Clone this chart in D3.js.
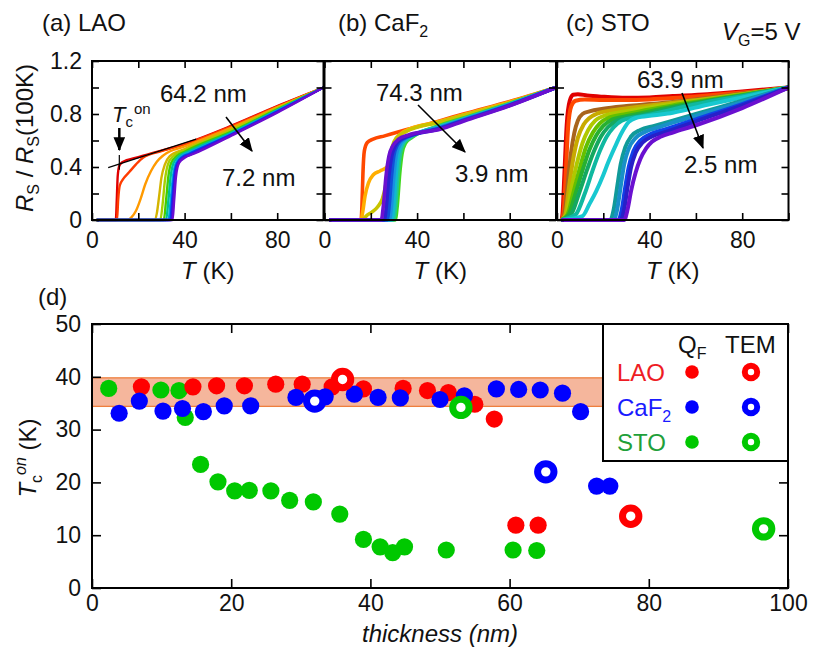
<!DOCTYPE html>
<html>
<head>
<meta charset="utf-8">
<script src="https://cdn.jsdelivr.net/npm/d3@7"></script>
<style>
  body { margin: 0; background: #fff; }
  text { font-family: Arial, "Liberation Sans", Helvetica, sans-serif; fill: #111; }
</style>
</head>
<body>
<svg id="chart" width="813" height="654"></svg>
<script>
// ---------- top panels: R_S/R_S(100K) vs T, one [T, R] list per film, thickest first ----------
const laoCurves = [
  [[2,0],[10.3,0],[10.7,0.15],[11.1,0.33],[11.8,0.41],[13,0.435],[20,0.475],[40,0.575],[60,0.71],[80,0.86],[100,1]],
  [[2,0],[10.8,0],[11.3,0.15],[12,0.26],[13.5,0.31],[16,0.36],[19,0.42],[22,0.47],[30,0.52],[40,0.57],[60,0.705],[80,0.855],[100,1]],
  [[2,0],[15.5,0],[17,0.02],[19,0.07],[21,0.16],[23,0.27],[25.5,0.37],[28,0.44],[31,0.49],[40,0.555],[60,0.695],[80,0.85],[100,1]],
  [[2,0],[27,0],[28,0.05],[29,0.18],[30,0.32],[31.5,0.42],[33.5,0.48],[40,0.535],[60,0.685],[80,0.845],[100,1]],
  [[2,0],[29.5,0],[30.5,0.12],[31.5,0.3],[32.8,0.42],[35,0.48],[40,0.525],[60,0.675],[80,0.84],[100,1]],
  [[2,0],[31,0],[32,0.15],[33,0.33],[34.2,0.43],[36.5,0.48],[40,0.515],[60,0.665],[80,0.835],[100,1]],
  [[2,0],[32,0],[33,0.15],[34,0.33],[35.2,0.43],[37.5,0.48],[42,0.52],[60,0.658],[80,0.83],[100,1]],
  [[2,0],[33,0],[34,0.15],[35,0.33],[36.2,0.43],[38.5,0.48],[42,0.51],[60,0.65],[80,0.825],[100,1]],
  [[2,0],[33.8,0],[34.6,0.15],[35.5,0.33],[36.8,0.43],[39,0.475],[42,0.5],[60,0.645],[80,0.82],[100,1]],
  [[2,0],[34.3,0],[35,0.15],[35.9,0.33],[37.2,0.43],[39.5,0.47],[42,0.49],[60,0.64],[80,0.815],[100,1]],
  [[2,0],[34.8,0],[35.5,0.15],[36.3,0.33],[37.6,0.43],[40,0.47],[44,0.5],[60,0.635],[80,0.81],[100,1]]
];
const caf2Curves = [
  [[2,0],[15.8,0],[16.2,0.12],[16.6,0.35],[17.2,0.52],[18.5,0.585],[21,0.61],[26,0.635],[34,0.675],[50,0.75],[60,0.8],[80,0.895],[100,1]],
  [[2,0],[15.8,0],[16.5,0.06],[17.5,0.18],[19,0.28],[21,0.34],[24,0.37],[27,0.4],[29,0.45],[30.5,0.55],[32,0.63],[34.5,0.67],[50,0.745],[60,0.795],[80,0.89],[100,1]],
  [[2,0],[16.3,0],[18,0.03],[20.5,0.06],[23,0.1],[25,0.16],[26.5,0.27],[27.8,0.42],[29.2,0.55],[31,0.62],[35,0.665],[50,0.74],[60,0.79],[80,0.885],[100,1]],
  [[2,0],[30.5,0],[31.5,0.12],[32.5,0.35],[33.5,0.5],[35,0.58],[38,0.625],[50,0.715],[60,0.77],[80,0.88],[100,1]],
  [[2,0],[29.8,0],[30.8,0.12],[31.8,0.35],[32.8,0.5],[34.3,0.58],[37,0.62],[50,0.71],[60,0.765],[80,0.877],[100,1]],
  [[2,0],[29,0],[30,0.12],[31,0.35],[32,0.5],[33.5,0.58],[36,0.62],[50,0.705],[60,0.76],[80,0.874],[100,1]],
  [[2,0],[28,0],[29,0.12],[30,0.34],[31,0.49],[32.6,0.57],[35,0.615],[50,0.7],[60,0.757],[80,0.871],[100,1]],
  [[2,0],[27,0],[28,0.12],[29,0.34],[30,0.49],[31.6,0.57],[34,0.612],[50,0.695],[60,0.754],[80,0.868],[100,1]],
  [[2,0],[25.8,0],[26.8,0.12],[27.8,0.33],[29,0.48],[30.6,0.56],[33,0.61],[50,0.69],[60,0.75],[80,0.865],[100,1]],
  [[2,0],[24.5,0],[25.5,0.12],[26.5,0.32],[27.8,0.48],[29.5,0.56],[32,0.61],[36,0.64],[50,0.685],[60,0.745],[80,0.862],[100,1]]
];
const stoCurves = [
  [[2,0],[2.4,0.05],[3.2,0.35],[4.2,0.72],[5.5,0.9],[7,0.945],[9,0.95],[13,0.94],[20,0.93],[30,0.922],[40,0.925],[50,0.935],[65,0.95],[80,0.97],[100,1]],
  [[2,0],[2.8,0.05],[3.8,0.35],[4.8,0.7],[6.2,0.86],[8,0.9],[12,0.91],[20,0.905],[30,0.905],[40,0.91],[50,0.92],[65,0.94],[80,0.962],[100,0.99]],
  [[2,0],[3.2,0.04],[4.5,0.25],[6,0.5],[7.5,0.66],[9,0.75],[11,0.8],[14,0.82],[20,0.84],[30,0.86],[40,0.875],[50,0.89],[65,0.92],[80,0.955],[100,1]],
  [[2,0],[3.6,0.04],[5.2,0.25],[7,0.46],[9,0.62],[11.5,0.72],[14,0.77],[17,0.8],[25,0.83],[40,0.865],[50,0.885],[65,0.915],[80,0.95],[100,1]],
  [[2,0],[4,0.04],[6,0.22],[8.5,0.42],[11,0.58],[13.5,0.68],[16.5,0.75],[20,0.785],[28,0.815],[40,0.85],[50,0.875],[65,0.91],[80,0.948],[100,1]],
  [[2,0],[4.5,0.04],[7,0.2],[10,0.4],[12.5,0.55],[15.5,0.66],[18.5,0.73],[22,0.77],[30,0.8],[40,0.835],[50,0.865],[65,0.905],[80,0.945],[100,1]],
  [[2,0],[5,0.04],[8,0.2],[11.5,0.4],[14,0.53],[17,0.64],[20,0.71],[24,0.76],[32,0.79],[40,0.82],[50,0.855],[65,0.9],[80,0.94],[100,1]],
  [[2,0],[6,0.04],[9.5,0.2],[13,0.38],[16,0.52],[19,0.63],[22,0.7],[26,0.75],[33,0.78],[40,0.805],[50,0.845],[65,0.895],[80,0.938],[100,1]],
  [[2,0],[8,0.04],[12,0.2],[15.5,0.38],[18.5,0.52],[21.5,0.63],[24.5,0.7],[28,0.75],[34,0.775],[40,0.795],[50,0.835],[65,0.89],[80,0.935],[100,1]],
  [[2,0],[11,0.03],[14,0.12],[17,0.22],[20,0.34],[22,0.43],[25,0.55],[28,0.66],[31,0.74],[34,0.77],[42,0.79],[50,0.81],[65,0.87],[80,0.925],[100,1]],
  [[2,0],[23,0],[24.5,0.08],[26,0.25],[27.5,0.42],[29.5,0.55],[32,0.63],[36,0.68],[42,0.71],[50,0.75],[60,0.8],[80,0.9],[100,1]],
  [[2,0],[24.5,0],[26,0.08],[27.5,0.25],[29,0.42],[31,0.54],[34,0.62],[38,0.665],[44,0.7],[50,0.735],[60,0.785],[80,0.89],[100,1]],
  [[2,0],[26.5,0],[28,0.08],[29.5,0.25],[31,0.4],[33,0.52],[36,0.6],[40,0.645],[46,0.68],[60,0.76],[80,0.875],[100,1]],
  [[2,0],[27.5,0],[29,0.08],[30.5,0.25],[32,0.4],[34,0.51],[37,0.585],[41,0.63],[48,0.67],[60,0.745],[80,0.865],[100,1]],
  [[2,0],[29,0],[30.5,0.08],[32,0.22],[34,0.36],[36,0.46],[38.5,0.54],[41,0.59],[45,0.63],[50,0.66],[60,0.715],[80,0.845],[100,1]]
];
// tangent used to define Tc^on in panel (a)
const tcLine = [[7,0.395],[45,0.61]];

const topXTicks = [0, 20, 40, 60, 80, 100];
const topYTicks = [0, 0.2, 0.4, 0.6, 0.8, 1.0, 1.2];

// ---------- panel (d): onset Tc vs thickness ----------
const laoThick  = [7.1, 14.5, 17.9, 21.9, 26.4, 30.2, 34.5, 39.0, 44.7, 48.2, 51.2, 55.0, 57.8, 60.9, 64.1];
const laoTc     = [38.1, 38.1, 38.3, 38.3, 38.6, 38.6, 38.1, 37.7, 37.8, 37.4, 37.0, 34.8, 32.0, 11.9, 11.9];
const caf2Thick = [3.9, 6.8, 10.2, 13.0, 16.0, 19.0, 22.8, 29.3, 33.5, 37.7, 41.1, 44.3, 50.0, 53.5, 58.1, 61.3, 64.4, 67.6, 70.2, 72.5, 74.4];
const caf2Tc    = [33.1, 35.4, 33.5, 34.0, 33.4, 34.5, 34.5, 36.1, 36.2, 36.7, 36.1, 36.0, 35.7, 36.4, 37.7, 37.6, 37.5, 36.9, 33.4, 19.3, 19.3];
const stoThick  = [2.4, 9.9, 12.5, 13.4, 15.6, 18.1, 20.5, 22.6, 25.7, 28.4, 31.8, 35.6, 39.0, 41.4, 43.2, 44.9, 50.9, 60.5, 63.9];
const stoTc     = [37.8, 37.5, 37.4, 32.3, 23.4, 20.1, 18.4, 18.5, 18.4, 16.6, 16.3, 14.0, 9.2, 7.8, 6.7, 7.8, 7.2, 7.2, 7.1];
const laoTemThick  = [36.0, 77.4];
const laoTemTc     = [39.5, 13.6];
const caf2TemThick = [32.0, 65.2];
const caf2TemTc    = [35.4, 22.0];
const stoTemThick  = [53.0, 96.5];
const stoTemTc     = [34.2, 11.2];
const bulkBand = [34.4, 39.8];
const bottomXTicks = [0, 20, 40, 60, 80, 100];
const bottomYTicks = [0, 10, 20, 30, 40, 50];

// ---------- styles ----------
const laoColors  = ["#e00000","#ff3c00","#ff9a00","#d4b400","#a6d000","#46cc00","#00c48c","#00a8e0","#0040f0","#3414e0","#6a0cd0"];
const caf2Colors = ["#ff4800","#ffae00","#c8c400","#40d820","#20c890","#10b8d0","#1890e0","#1050d8","#2a20d0","#6a10d0"];
const stoColors  = ["#e00000","#ff4800","#a8641c","#c8aa00","#b0c800","#64c000","#28b030","#14a860","#10b8a0","#18c8d0","#109a9a","#1890c8","#1040e8","#2820c8","#6a10d0"];
const RED = "#ff0000", BLUE = "#0000ff", GREEN = "#00c800";

const svg = d3.select("#chart");

svg.append("defs").append("marker")
  .attr("id", "arrow").attr("markerUnits", "userSpaceOnUse")
  .attr("viewBox", "0 0 12 10").attr("refX", 11).attr("refY", 5)
  .attr("markerWidth", 14).attr("markerHeight", 12).attr("orient", "auto")
  .append("path").attr("d", "M0,0 L12,5 L0,10 Z").attr("fill", "#000");

const topY = d3.scaleLinear().domain([0, 1.2]).range([220, 61]);
const panelLefts = [92, 324.5, 557];
const panelW = 231.5;

function styleAxis(g, size) {
  g.select(".domain").remove();
  g.selectAll(".tick line").attr("stroke", "#000").attr("stroke-width", 1.6);
  g.selectAll("text").attr("font-size", size).attr("fill", "#111")
    .attr("font-family", "Arial, 'Liberation Sans', sans-serif");
}

function drawPanel(i, curves, colors, lw) {
  const x = d3.scaleLinear().domain([0, 100]).range([panelLefts[i], panelLefts[i] + panelW]);
  const clipId = "clip" + i;
  svg.select("defs").append("clipPath").attr("id", clipId).append("rect")
    .attr("x", x(0)).attr("y", topY(1.2)).attr("width", panelW).attr("height", topY(0) - topY(1.2) + 2);

  const line = d3.line().x(d => x(d[0])).y(d => topY(d[1])).curve(d3.curveMonotoneX);
  svg.append("g").attr("clip-path", `url(#${clipId})`)
    .selectAll("path").data(curves).join("path")
    .attr("d", line).attr("fill", "none")
    .attr("stroke", (d, j) => colors[j]).attr("stroke-width", lw)
    .attr("stroke-linejoin", "round");

  svg.append("g").attr("transform", `translate(0,${topY(0)})`)
    .call(d3.axisBottom(x).tickValues(topXTicks).tickSizeInner(-7).tickSizeOuter(0).tickPadding(12)
      .tickFormat(d => (d % 40 === 0 && d < 100) ? d : ""))
    .call(g => styleAxis(g, 23));
  svg.append("g").attr("transform", `translate(0,${topY(1.2)})`)
    .call(d3.axisTop(x).tickValues(topXTicks).tickSizeInner(-7).tickSizeOuter(0).tickFormat(""))
    .call(g => styleAxis(g, 23));
  svg.append("g").attr("transform", `translate(${x(0)},0)`)
    .call(d3.axisLeft(topY).tickValues(topYTicks).tickSizeInner(-7).tickSizeOuter(0).tickPadding(10)
      .tickFormat(d => i > 0 ? "" : (Math.round(d * 10) % 4 === 0 ? (d === 0 ? "0" : d.toFixed(1)) : "")))
    .call(g => styleAxis(g, 23));
  svg.append("g").attr("transform", `translate(${x(100)},0)`)
    .call(d3.axisRight(topY).tickValues(topYTicks).tickSizeInner(-7).tickSizeOuter(0).tickFormat(""))
    .call(g => styleAxis(g, 23));

  svg.append("rect").attr("x", x(0)).attr("y", topY(1.2))
    .attr("width", panelW).attr("height", topY(0) - topY(1.2))
    .attr("fill", "none").attr("stroke", "#000").attr("stroke-width", 2);

  // T (K) axis title
  const t = svg.append("text").attr("x", x(50)).attr("y", 279).attr("text-anchor", "middle").attr("font-size", 24);
  t.append("tspan").attr("font-style", "italic").text("T");
  t.append("tspan").text(" (K)");
  return x;
}

const xa = drawPanel(0, laoCurves, laoColors, 2.4);
const xb = drawPanel(1, caf2Curves, caf2Colors, 3.6);
const xc = drawPanel(2, stoCurves, stoColors, 4);

// tangent + Tc marker in (a)
svg.append("path").datum(tcLine)
  .attr("d", d3.line().x(d => xa(d[0])).y(d => topY(d[1])))
  .attr("stroke", "#000").attr("stroke-width", 1.2).attr("fill", "none");
svg.append("line").attr("x1", xa(11.8)).attr("x2", xa(11.8)).attr("y1", topY(0.49)).attr("y2", topY(0.38))
  .attr("stroke", "#000").attr("stroke-width", 1.2);
svg.append("line").attr("x1", xa(11.8)).attr("x2", xa(11.8)).attr("y1", 128).attr("y2", 150)
  .attr("stroke", "#000").attr("stroke-width", 2.5).attr("marker-end", "url(#arrow)");
const tcl = svg.append("text").attr("x", 112).attr("y", 122).attr("font-size", 22);
tcl.append("tspan").attr("font-style", "italic").text("T");
tcl.append("tspan").attr("font-size", 15).attr("dy", 5).text("c");
tcl.append("tspan").attr("font-size", 15).attr("dy", -13).attr("dx", 1).text("on");

// thickness annotations with arrows
function note(txt, x, y) {
  svg.append("text").attr("x", x).attr("y", y).attr("font-size", 24).text(txt);
}
function arrow(x1, y1, x2, y2) {
  svg.append("line").attr("x1", x1).attr("y1", y1).attr("x2", x2).attr("y2", y2)
    .attr("stroke", "#000").attr("stroke-width", 1.6).attr("marker-end", "url(#arrow)");
}
note("64.2 nm", 160, 102); note("7.2 nm", 222, 186); arrow(226, 117, 252, 151);
note("74.3 nm", 376, 101); note("3.9 nm", 455, 182); arrow(418, 105, 465, 152);
note("63.9 nm", 637, 88);  note("2.5 nm", 684, 173); arrow(682, 93, 703, 148);

// panel titles
svg.append("text").attr("x", 42).attr("y", 31).attr("font-size", 24).text("(a) LAO");
const tb = svg.append("text").attr("x", 338).attr("y", 31).attr("font-size", 24);
tb.append("tspan").text("(b) CaF");
tb.append("tspan").attr("font-size", 16).attr("dy", 6).text("2");
svg.append("text").attr("x", 566).attr("y", 31).attr("font-size", 24).text("(c) STO");
const vg = svg.append("text").attr("x", 722).attr("y", 40).attr("font-size", 24);
vg.append("tspan").attr("font-style", "italic").text("V");
vg.append("tspan").attr("font-size", 16).attr("dy", 6).text("G");
vg.append("tspan").attr("dy", -6).text("=5 V");

// y title for top row
const ryt = svg.append("text").attr("transform", "translate(33,138) rotate(-90)")
  .attr("text-anchor", "middle").attr("font-size", 24);
ryt.append("tspan").attr("font-style", "italic").text("R");
ryt.append("tspan").attr("font-size", 16).attr("dy", 6).text("S");
ryt.append("tspan").attr("dy", -6).text(" / ");
ryt.append("tspan").attr("font-style", "italic").text("R");
ryt.append("tspan").attr("font-size", 16).attr("dy", 6).text("S");
ryt.append("tspan").attr("dy", -6).text("(100K)");

// ---------- panel (d) ----------
const xB = d3.scaleLinear().domain([0, 100]).range([92, 788]);
const yB = d3.scaleLinear().domain([0, 50]).range([588, 324]);

svg.append("rect").attr("x", xB(0)).attr("y", yB(bulkBand[1]))
  .attr("width", xB(100) - xB(0)).attr("height", yB(bulkBand[0]) - yB(bulkBand[1]))
  .attr("fill", "#f5b69c").attr("stroke", "#ee7f3e").attr("stroke-width", 1.3);

function dots(xs, ys, color) {
  svg.append("g").selectAll("circle").data(xs).join("circle")
    .attr("cx", d => xB(d)).attr("cy", (d, k) => yB(ys[k])).attr("r", 8.6).attr("fill", color);
}
function rings(xs, ys, color) {
  svg.append("g").selectAll("circle").data(xs).join("circle")
    .attr("cx", d => xB(d)).attr("cy", (d, k) => yB(ys[k])).attr("r", 8.2)
    .attr("fill", "#fff").attr("stroke", color).attr("stroke-width", 7);
}
dots(stoThick, stoTc, GREEN);
dots(laoThick, laoTc, RED);
dots(caf2Thick, caf2Tc, BLUE);
rings(laoTemThick, laoTemTc, RED);
rings(caf2TemThick, caf2TemTc, BLUE);
rings(stoTemThick, stoTemTc, GREEN);

svg.append("g").attr("transform", `translate(0,${yB(0)})`)
  .call(d3.axisBottom(xB).tickValues(bottomXTicks).tickSizeInner(-9).tickSizeOuter(0).tickPadding(7))
  .call(g => styleAxis(g, 23));
svg.append("g").attr("transform", `translate(0,${yB(50)})`)
  .call(d3.axisTop(xB).tickValues(bottomXTicks).tickSizeInner(-9).tickSizeOuter(0).tickFormat(""))
  .call(g => styleAxis(g, 23));
svg.append("g").attr("transform", `translate(${xB(0)},0)`)
  .call(d3.axisLeft(yB).tickValues(bottomYTicks).tickSizeInner(-9).tickSizeOuter(0).tickPadding(11))
  .call(g => styleAxis(g, 23));
svg.append("g").attr("transform", `translate(${xB(100)},0)`)
  .call(d3.axisRight(yB).tickValues(bottomYTicks).tickSizeInner(-9).tickSizeOuter(0).tickFormat(""))
  .call(g => styleAxis(g, 23));
svg.append("rect").attr("x", xB(0)).attr("y", yB(50))
  .attr("width", xB(100) - xB(0)).attr("height", yB(0) - yB(50))
  .attr("fill", "none").attr("stroke", "#000").attr("stroke-width", 2);

svg.append("text").attr("x", 38).attr("y", 305).attr("font-size", 24).text("(d)");
svg.append("text").attr("x", 440).attr("y", 642).attr("text-anchor", "middle")
  .attr("font-size", 24).attr("font-style", "italic").text("thickness (nm)");
const tyt = svg.append("text").attr("transform", "translate(36,458) rotate(-90)")
  .attr("text-anchor", "middle").attr("font-size", 24);
tyt.append("tspan").attr("font-style", "italic").text("T");
tyt.append("tspan").attr("font-size", 16).attr("dy", 6).text("c");
tyt.append("tspan").attr("font-size", 16).attr("font-style", "italic").attr("dy", -16).text("on");
tyt.append("tspan").attr("dy", 10).text(" (K)");

// legend
const lg = svg.append("g");
lg.append("rect").attr("x", 603).attr("y", 324).attr("width", 185).attr("height", 137)
  .attr("fill", "#fff").attr("stroke", "#000").attr("stroke-width", 2);
const qf = lg.append("text").attr("x", 678).attr("y", 353).attr("font-size", 24);
qf.append("tspan").text("Q");
qf.append("tspan").attr("font-size", 16).attr("dy", 6).text("F");
lg.append("text").attr("x", 725).attr("y", 353).attr("font-size", 24).text("TEM");
const legendRows = [
  { label: "LAO", sub: "", color: RED, textColor: "#ee1c24", y: 372 },
  { label: "CaF", sub: "2", color: BLUE, textColor: "#1a1aff", y: 407 },
  { label: "STO", sub: "", color: GREEN, textColor: "#1fa03a", y: 442 }
];
legendRows.forEach(r => {
  const t = lg.append("text").attr("x", 617).attr("y", r.y + 9).attr("font-size", 24);
  t.append("tspan").style("fill", r.textColor).text(r.label);
  if (r.sub) t.append("tspan").style("fill", r.textColor).attr("font-size", 16).attr("dy", 6).text(r.sub);
  lg.append("circle").attr("cx", 692).attr("cy", r.y).attr("r", 6.8).attr("fill", r.color);
  lg.append("circle").attr("cx", 751).attr("cy", r.y).attr("r", 6.2)
    .attr("fill", "#fff").attr("stroke", r.color).attr("stroke-width", 6);
});
</script>
</body>
</html>
